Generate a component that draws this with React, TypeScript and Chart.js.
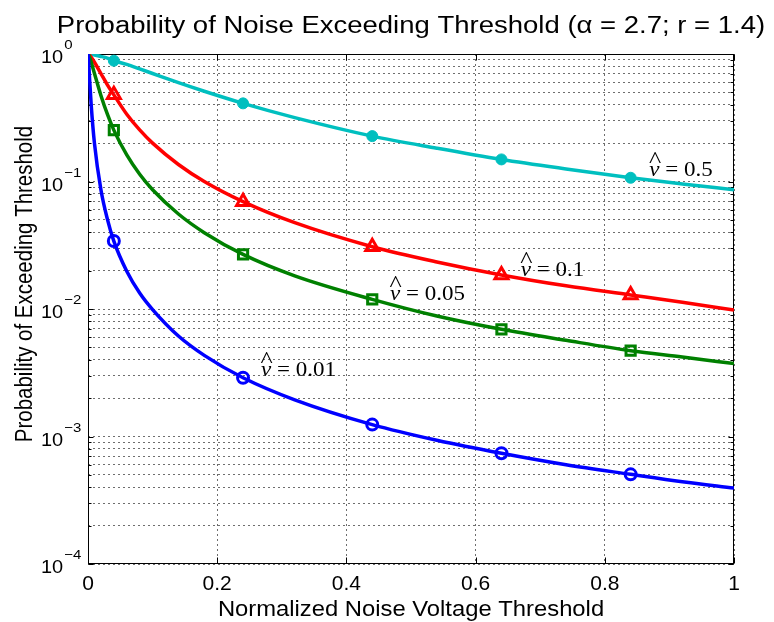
import React, { useEffect, useRef } from "react";
import { Chart, registerables } from "chart.js";

Chart.register(...registerables);

// ---------- data ----------
const titleText = "Probability of Noise Exceeding Threshold (\u03B1 = 2.7; r = 1.4)";
const xAxisTitle = "Normalized Noise Voltage Threshold";
const yAxisTitle = "Probability of Exceeding Threshold";

const xValues = [0, 0.001, 0.0025, 0.005, 0.01, 0.02, 0.03, 0.04, 0.06, 0.08, 0.1, 0.14, 0.18, 0.24, 0.32, 0.44, 0.54, 0.64, 0.74, 0.84, 0.92, 1.0];

const cyanValues = [1, 0.999, 0.998, 0.994, 0.983, 0.957, 0.927, 0.886, 0.829, 0.764, 0.703, 0.596, 0.51, 0.41, 0.317, 0.227, 0.1825, 0.149, 0.1255, 0.107, 0.0957, 0.0862];
const redValues = [1, 0.994, 0.978, 0.942, 0.862, 0.703, 0.573, 0.478, 0.337, 0.254, 0.2, 0.136, 0.1, 0.0695, 0.0475, 0.0308, 0.0234, 0.0185, 0.0152, 0.0129, 0.0113, 0.0098];
const greenValues = [1, 0.983, 0.943, 0.862, 0.703, 0.473, 0.337, 0.253, 0.1615, 0.114, 0.0862, 0.0556, 0.0397, 0.0268, 0.0182, 0.0119, 0.00881, 0.00693, 0.00568, 0.00471, 0.0042, 0.00373];
const blueValues = [1, 0.862, 0.634, 0.396, 0.199, 0.0862, 0.0507, 0.0341, 0.0198, 0.01335, 0.0099, 0.00614, 0.00433, 0.00289, 0.00194, 0.00124, 0.000934, 0.000738, 0.0006, 0.000505, 0.000442, 0.000394];

const markerX = [0.04, 0.24, 0.44, 0.64, 0.84];
const cyanMarkers = [0.886, 0.41, 0.227, 0.149, 0.107];
const redMarkers = [0.478, 0.0695, 0.0308, 0.0185, 0.0129];
const greenMarkers = [0.253, 0.0268, 0.0119, 0.00693, 0.00471];
const blueMarkers = [0.0341, 0.00289, 0.00124, 0.000738, 0.000505];

const xTicks = [0, 0.2, 0.4, 0.6, 0.8, 1];
const xTickLabels = ["0", "0.2", "0.4", "0.6", "0.8", "1"];
const yDecades = [1, 0.1, 0.01, 0.001, 0.0001];
const yExponents = ["0", "\u22121", "\u22122", "\u22123", "\u22124"];
const yMinorMultipliers = [2, 3, 4, 5, 6, 7, 8, 9];

const annotations = [
  { label: "0.5", x: 0.869, y: 0.1104 },
  { label: "0.1", x: 0.67, y: 0.01815 },
  { label: "0.05", x: 0.4675, y: 0.01177 },
  { label: "0.01", x: 0.2678, y: 0.00298 },
];

const CYAN = "#00BFBF";
const RED = "#FF0000";
const GREEN = "#008000";
const BLUE = "#0000FF";

const SANS = "'Liberation Sans', Arial, sans-serif";
const SERIF = "'Liberation Serif', 'Times New Roman', serif";
const SQUASH = 0.89;
const GRID_COLOR = "#6e6e6e";

const toPoints = (xs: number[], ys: number[]) => xs.map((x, i) => ({ x, y: ys[i] }));

const yTickValues: number[] = [];
yDecades.forEach((d) => {
  yTickValues.push(d);
  if (d < 1) yMinorMultipliers.forEach((m) => yTickValues.push(d * m));
});

const decorPlugin = {
  id: "decor",
  beforeDatasetsDraw(chart: any) {
    const { ctx, chartArea: a, scales } = chart;
    const xs = scales.x;
    const ys = scales.y;
    ctx.save();
    ctx.strokeStyle = "#000";
    ctx.lineWidth = 1;
    ctx.setLineDash([]);
    ctx.beginPath();
    const L = Math.round(a.left) + 0.5;
    const R = Math.round(a.right) - 0.5;
    const T = Math.round(a.top) + 0.5;
    const B = Math.round(a.bottom) - 0.5;
    yTickValues.forEach((v) => {
      const y = Math.round(ys.getPixelForValue(v)) + 0.5;
      const isMajor = yDecades.includes(v);
      const len = isMajor ? 5 : 3;
      ctx.moveTo(L, y);
      ctx.lineTo(L + len, y);
      ctx.moveTo(R, y);
      ctx.lineTo(R - len, y);
    });
    xTicks.forEach((v) => {
      const x = Math.round(xs.getPixelForValue(v)) + 0.5;
      ctx.moveTo(x, B);
      ctx.lineTo(x, B - 6);
      ctx.moveTo(x, T);
      ctx.lineTo(x, T + 6);
    });
    ctx.stroke();
    ctx.strokeRect(L, T, R - L, B - T);
    ctx.restore();
  },
  afterDraw(chart: any) {
    const { ctx, chartArea: a, scales } = chart;
    const xs = scales.x;
    const ys = scales.y;
    const cx = (a.left + a.right) / 2;
    ctx.save();
    ctx.fillStyle = "#000";
    ctx.textBaseline = "alphabetic";

    // title
    ctx.save();
    ctx.translate(cx, 33);
    ctx.scale(1, SQUASH);
    ctx.font = `27.5px ${SANS}`;
    ctx.textAlign = "center";
    ctx.fillText(titleText, 0, 0);
    ctx.restore();

    // x axis title
    ctx.save();
    ctx.translate(cx, 616);
    ctx.scale(1, SQUASH);
    ctx.font = `23.8px ${SANS}`;
    ctx.textAlign = "center";
    ctx.fillText(xAxisTitle, 0, 0);
    ctx.restore();

    // y axis title
    ctx.save();
    ctx.translate(32, 284);
    ctx.rotate(-Math.PI / 2);
    ctx.scale(SQUASH, 1);
    ctx.font = `23px ${SANS}`;
    ctx.textAlign = "center";
    ctx.fillText(yAxisTitle, 0, 0);
    ctx.restore();

    // y tick labels 10^k
    yDecades.forEach((d, i) => {
      const py = ys.getPixelForValue(d);
      ctx.save();
      ctx.translate(41, py + 9.3);
      ctx.scale(1, SQUASH);
      ctx.font = `20px ${SANS}`;
      ctx.textAlign = "left";
      ctx.fillText("10", 0, 0);
      const w = ctx.measureText("10").width;
      ctx.font = `15px ${SANS}`;
      ctx.fillText(yExponents[i], w + 1, -(14.3 / SQUASH));
      ctx.restore();
    });

    // curve annotations
    annotations.forEach((an) => {
      const px = xs.getPixelForValue(an.x);
      const py = ys.getPixelForValue(an.y);
      ctx.save();
      ctx.translate(px, py);
      ctx.scale(1, SQUASH);
      ctx.textAlign = "left";
      ctx.font = `italic 23px ${SERIF}`;
      ctx.fillText("v", 0, 0);
      const vw = ctx.measureText("v").width;
      ctx.font = `26px ${SERIF}`;
      ctx.textAlign = "center";
      ctx.fillText("^", vw / 2 + 0.5, -10.5);
      ctx.font = `23px ${SERIF}`;
      ctx.textAlign = "left";
      ctx.fillText(" = " + an.label, vw, 0);
      ctx.restore();
    });
    ctx.restore();
  },
};

const lineDataset = (data: number[], color: string) => ({
  data: toPoints(xValues, data),
  borderColor: color,
  backgroundColor: color,
  borderWidth: 3.5,
  pointRadius: 0,
  cubicInterpolationMode: "monotone" as const,
  fill: false,
});

const markerDataset = (data: number[], color: string, style: string, radius: number, filled: boolean) => ({
  data: toPoints(markerX, data),
  showLine: false,
  borderColor: color,
  backgroundColor: filled ? color : "rgba(0,0,0,0)",
  pointStyle: style,
  pointRadius: radius,
  pointBorderWidth: filled ? 1 : 3,
  pointBorderColor: color,
  pointBackgroundColor: filled ? color : "rgba(0,0,0,0)",
});

export default function App() {
  const canvasRef = useRef<HTMLCanvasElement | null>(null);

  useEffect(() => {
    if (!canvasRef.current) return;
    const chart = new Chart(canvasRef.current, {
      type: "line",
      data: {
        datasets: [
          lineDataset(blueValues, BLUE),
          markerDataset(blueMarkers, BLUE, "circle", 5.5, false),
          lineDataset(greenValues, GREEN),
          markerDataset(greenMarkers, GREEN, "rect", 6.5, false),
          lineDataset(redValues, RED),
          markerDataset(redMarkers, RED, "triangle", 7.5, false),
          lineDataset(cyanValues, CYAN),
          markerDataset(cyanMarkers, CYAN, "circle", 5.5, true),
        ] as any,
      },
      options: {
        responsive: false,
        animation: false,
        devicePixelRatio: 1,
        layout: { padding: { left: 88, right: 40, top: 54, bottom: 0 } },
        plugins: {
          legend: { display: false },
          tooltip: { enabled: false },
          title: { display: false },
        },
        scales: {
          x: {
            type: "linear",
            min: 0,
            max: 1,
            afterBuildTicks: (scale: any) => {
              scale.ticks = xTicks.map((v) => ({ value: v }));
            },
            afterFit: (scale: any) => {
              scale.height = 58;
            },
            border: { display: false, dash: [2, 3] },
            grid: {
              color: GRID_COLOR,
              lineWidth: 1,
              drawTicks: false,
            },
            ticks: {
              color: "#000",
              font: { family: SANS, size: 21 },
              padding: 8,
              maxRotation: 0,
              autoSkip: false,
              callback: (_v: any, i: number) => xTickLabels[i],
            },
          },
          y: {
            type: "logarithmic",
            min: 0.0001,
            max: 1,
            afterBuildTicks: (scale: any) => {
              scale.ticks = yTickValues.map((v) => ({ value: v }));
            },
            afterFit: (scale: any) => {
              scale.width = 0;
            },
            border: { display: false, dash: [2, 3] },
            grid: {
              color: GRID_COLOR,
              lineWidth: 1,
              drawTicks: false,
            },
            ticks: { display: false },
          },
        },
      } as any,
      plugins: [decorPlugin],
    });
    return () => chart.destroy();
  }, []);

  return (
    <div style={{ position: "absolute", left: 0, top: 0, width: 774, height: 622, background: "#fff" }}>
      <canvas ref={canvasRef} width={774} height={622} style={{ display: "block" }} />
    </div>
  );
}
